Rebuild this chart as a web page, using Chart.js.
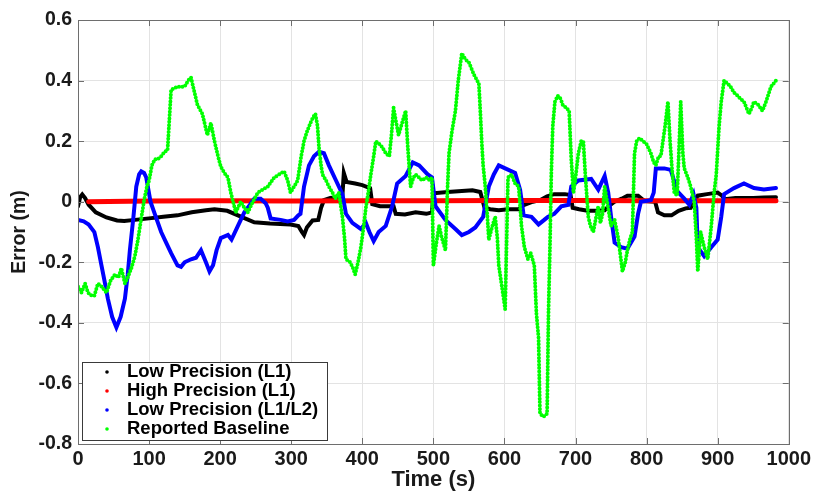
<!DOCTYPE html>
<html>
<head>
<meta charset="utf-8">
<script src="https://cdn.jsdelivr.net/npm/chart.js@4/dist/chart.umd.min.js"></script>
<style>
    body { margin: 0; background: #ffffff; }
    #wrap { width: 814px; height: 493px; position: relative; }
</style>
</head>
<body>
<div id="wrap"><canvas id="errChart"></canvas></div>
<script>
// Series: time (s) and error (m)
const seriesLabels = ["Low Precision (L1)", "High Precision (L1)", "Low Precision (L1/L2)", "Reported Baseline"];
const seriesColors = ["#000000", "#ff0000", "#0000ff", "#00ff00"];

const lowL1Time = [0, 3, 6, 10, 15, 25, 40, 55, 65, 80, 100, 120, 140, 160, 180, 192, 210, 230, 248, 270, 299, 310, 315, 318, 322, 330, 338, 342, 346, 355, 365, 372, 374, 378, 390, 400, 411, 414, 425, 444, 447, 460, 475, 490, 498, 500, 520, 540, 555, 566, 572, 580, 592, 605, 620, 628, 640, 650, 660, 670, 685, 693, 696, 705, 717, 730, 741, 748, 755, 765, 773, 788, 797, 812, 816, 825, 835, 845, 855, 862, 872, 885, 900, 906, 910, 925, 950, 965, 982];
const lowL1Err = [-0.015, 0.015, 0.024, 0.012, -0.01, -0.035, -0.052, -0.062, -0.064, -0.06, -0.055, -0.05, -0.045, -0.035, -0.028, -0.025, -0.03, -0.05, -0.068, -0.072, -0.075, -0.08, -0.1, -0.11, -0.085, -0.062, -0.06, -0.02, 0.005, 0.012, 0.015, 0.02, 0.095, 0.065, 0.06, 0.055, 0.045, -0.008, -0.015, -0.015, -0.04, -0.042, -0.035, -0.04, -0.035, 0.028, 0.032, 0.035, 0.038, 0.032, -0.02, -0.025, -0.028, -0.025, -0.025, -0.01, 0.0, 0.005, 0.018, 0.025, 0.025, 0.022, -0.02, -0.025, -0.03, -0.03, -0.028, -0.012, 0.0, 0.01, 0.02, 0.02, 0.002, 0.0, -0.035, -0.045, -0.045, -0.03, -0.022, -0.02, 0.02, 0.025, 0.03, 0.02, 0.008, 0.012, 0.012, 0.014, 0.015];

const highL1Time = [15, 100, 200, 300, 400, 500, 600, 700, 800, 900, 982];
const highL1Err = [0.0, 0.002, 0.003, 0.002, 0.003, 0.003, 0.004, 0.004, 0.003, 0.003, 0.003];

const lowL1L2Time = [0, 8, 15, 23, 28, 33, 38, 42, 48, 54, 60, 66, 70, 73, 78, 82, 86, 89, 93, 96, 102, 108, 117, 125, 131, 140, 145, 150, 159, 166, 173, 180, 185, 190, 195, 201, 211, 216, 225, 234, 242, 248, 257, 264, 267, 271, 285, 295, 304, 310, 313, 318, 325, 332, 339, 346, 353, 362, 372, 377, 386, 398, 405, 410, 416, 423, 433, 442, 449, 461, 471, 480, 492, 498, 503, 517, 531, 540, 550, 559, 570, 578, 585, 592, 601, 615, 622, 627, 638, 648, 656, 661, 670, 680, 690, 694, 704, 722, 732, 741, 746, 750, 755, 764, 773, 783, 788, 792, 806, 810, 813, 825, 834, 843, 853, 860, 866, 870, 872, 881, 891, 900, 905, 909, 923, 937, 951, 965, 982];
const lowL1L2Err = [-0.06, -0.065, -0.075, -0.1, -0.15, -0.21, -0.27, -0.32, -0.38, -0.415, -0.38, -0.32, -0.24, -0.16, -0.05, 0.05, 0.09, 0.1, 0.095, 0.08, 0.0, -0.04, -0.1, -0.14, -0.17, -0.21, -0.215, -0.2, -0.19, -0.185, -0.16, -0.2, -0.23, -0.21, -0.16, -0.12, -0.11, -0.125, -0.08, -0.035, -0.01, 0.01, 0.01, -0.005, -0.02, -0.055, -0.06, -0.065, -0.06, -0.045, -0.04, 0.05, 0.12, 0.15, 0.165, 0.16, 0.12, 0.075, 0.025, -0.04, -0.07, -0.09, -0.07, -0.1, -0.13, -0.1, -0.08, -0.015, 0.06, 0.085, 0.13, 0.12, 0.09, 0.08, -0.015, -0.06, -0.09, -0.11, -0.1, -0.085, -0.05, 0.05, 0.09, 0.12, 0.11, 0.095, 0.04, -0.045, -0.05, -0.075, -0.06, -0.05, -0.04, -0.015, -0.01, 0.05, 0.07, 0.075, 0.04, 0.085, 0.03, -0.05, -0.135, -0.15, -0.155, -0.115, -0.04, 0.0, 0.005, 0.03, 0.11, 0.11, 0.105, 0.035, 0.01, -0.01, 0.025, -0.02, -0.15, -0.18, -0.15, -0.125, -0.05, 0.025, 0.045, 0.06, 0.045, 0.04, 0.045];

const baselineTime = [0, 5, 10, 14, 19, 23, 28, 33, 40, 46, 52, 57, 61, 66, 70, 75, 80, 84, 88, 93, 97, 100, 104, 108, 112, 117, 122, 126, 128, 131, 140, 150, 155, 159, 164, 168, 175, 182, 187, 192, 197, 201, 206, 211, 215, 222, 229, 234, 239, 246, 253, 260, 267, 276, 283, 290, 295, 299, 304, 309, 314, 318, 322, 327, 331, 334, 337, 339, 342, 344, 349, 353, 358, 362, 367, 372, 375, 377, 383, 387, 390, 394, 398, 402, 405, 409, 412, 416, 419, 424, 428, 433, 438, 441, 444, 447, 451, 456, 461, 464, 468, 472, 475, 480, 484, 490, 495, 498, 500, 504, 508, 512, 517, 520, 522, 526, 531, 535, 540, 545, 550, 557, 564, 566, 568, 570, 573, 576, 578, 583, 587, 590, 592, 597, 601, 605, 610, 615, 620, 624, 628, 633, 637, 642, 645, 648, 650, 655, 660, 662, 664, 666, 668, 671, 675, 679, 682, 687, 691, 694, 697, 699, 704, 708, 711, 714, 718, 721, 725, 729, 732, 735, 738, 741, 750, 755, 760, 766, 770, 773, 777, 780, 783, 786, 790, 795, 800, 806, 810, 813, 817, 820, 823, 826, 830, 833, 836, 839, 843, 846, 848, 851, 853, 858, 862, 867, 870, 872, 876, 881, 886, 891, 895, 898, 902, 905, 909, 914, 918, 923, 928, 932, 937, 944, 948, 951, 957, 963, 968, 975, 982];
const baselineErr = [-0.28, -0.3, -0.27, -0.3, -0.31, -0.31, -0.27, -0.28, -0.3, -0.26, -0.24, -0.25, -0.22, -0.27, -0.25, -0.22, -0.18, -0.13, -0.07, 0.005, 0.05, 0.07, 0.12, 0.14, 0.14, 0.15, 0.165, 0.17, 0.25, 0.37, 0.38, 0.38, 0.4, 0.41, 0.36, 0.32, 0.29, 0.22, 0.26, 0.2, 0.15, 0.115, 0.095, 0.08, 0.03, -0.035, 0.0, -0.02, -0.035, 0.0, 0.03, 0.04, 0.05, 0.08, 0.09, 0.1, 0.07, 0.03, 0.05, 0.07, 0.15, 0.2, 0.23, 0.26, 0.28, 0.29, 0.25, 0.18, 0.12, 0.09, 0.07, 0.05, 0.03, 0.01, 0.03, -0.05, -0.12, -0.19, -0.2, -0.22, -0.24, -0.2, -0.15, -0.08, -0.02, 0.04, 0.09, 0.15, 0.2, 0.19, 0.18, 0.16, 0.15, 0.22, 0.31, 0.27, 0.22, 0.26, 0.3, 0.18, 0.05, 0.08, 0.09, 0.08, 0.07, 0.08, 0.07, 0.08, -0.21, -0.14, -0.08, -0.12, -0.16, 0.05, 0.16, 0.23, 0.3, 0.4, 0.49, 0.47, 0.46, 0.42, 0.39, 0.3, 0.2, 0.12, 0.05, -0.05, -0.125, -0.08, -0.05, -0.12, -0.21, -0.29, -0.355, 0.08, 0.09, 0.06, 0.05, -0.08, -0.15, -0.19, -0.17, -0.21, -0.37, -0.45, -0.7, -0.71, -0.7, -0.36, -0.15, 0.1, 0.25, 0.33, 0.35, 0.34, 0.32, 0.31, 0.3, 0.14, 0.03, 0.06, 0.16, 0.2, 0.2, 0.08, -0.05, -0.08, -0.1, -0.05, -0.015, -0.07, -0.04, 0.05, -0.08, -0.06, -0.12, -0.23, -0.2, -0.16, -0.12, -0.1, 0.16, 0.2, 0.21, 0.2, 0.19, 0.16, 0.13, 0.12, 0.15, 0.15, 0.2, 0.25, 0.33, 0.2, 0.1, 0.03, 0.02, 0.2, 0.33, 0.16, 0.11, 0.08, 0.05, 0.0, -0.12, -0.23, -0.1, -0.15, -0.19, -0.08, 0.03, 0.09, 0.25, 0.33, 0.4, 0.39, 0.38, 0.36, 0.35, 0.34, 0.33, 0.29, 0.31, 0.33, 0.32, 0.3, 0.33, 0.38, 0.4];

const timeList = [lowL1Time, highL1Time, lowL1L2Time, baselineTime];
const errList = [lowL1Err, highL1Err, lowL1L2Err, baselineErr];
const lineWidths = [4, 5, 4, 4];

function toPoints(times, errs) {
    const pts = [];
    for (let i = 0; i < times.length; i++) {
        pts.push({x: times[i], y: errs[i]});
    }
    return pts;
}

const datasets = [];
for (let i = 0; i < seriesLabels.length; i++) {
    datasets.push({
        label: seriesLabels[i],
        data: toPoints(timeList[i], errList[i]),
        borderColor: seriesColors[i],
        backgroundColor: seriesColors[i],
        borderWidth: lineWidths[i],
        borderDash: i === 3 ? [0, 3.4] : [], //<--- the baseline is a run of dots in the original
        borderCapStyle: "round",
        showLine: true,
        pointRadius: 0,
        tension: 0,
        order: 4 - i //<--- green ends up on top, black at the bottom
    });
}

// Box, inner ticks and the legend box in the lower left corner
const frameAndLegend = {
    id: "frameAndLegend",
    afterDatasetsDraw(chart) {
        const ctx = chart.ctx;
        const a = chart.chartArea;
        const xs = chart.scales.x;
        const ys = chart.scales.y;
        ctx.save();
        ctx.strokeStyle = "#6e6e6e";
        ctx.lineWidth = 1;
        ctx.strokeRect(Math.round(a.left) + 0.5, Math.round(a.top) + 0.5, Math.round(a.right - a.left), Math.round(a.bottom - a.top));
        ctx.beginPath();
        xs.ticks.forEach(t => {
            const px = Math.round(xs.getPixelForValue(t.value)) + 0.5;
            ctx.moveTo(px, a.bottom); ctx.lineTo(px, a.bottom - 6);
            ctx.moveTo(px, a.top); ctx.lineTo(px, a.top + 6);
        });
        ys.ticks.forEach(t => {
            const py = Math.round(ys.getPixelForValue(t.value)) + 0.5;
            ctx.moveTo(a.left, py); ctx.lineTo(a.left + 6, py);
            ctx.moveTo(a.right, py); ctx.lineTo(a.right - 6, py);
        });
        ctx.stroke();

        // legend
        const bx = a.left + 4.5, by = 362.5, bw = 245, bh = 78;
        ctx.fillStyle = "#ffffff";
        ctx.fillRect(bx, by, bw, bh);
        ctx.strokeStyle = "#3a3a3a";
        ctx.strokeRect(bx, by, bw, bh);
        ctx.font = "bold 18.5px 'Liberation Sans', Arial, sans-serif";
        ctx.textBaseline = "middle";
        ctx.textAlign = "left";
        for (let i = 0; i < seriesLabels.length; i++) {
            const cy = 372 + i * 19;
            ctx.fillStyle = seriesColors[i];
            ctx.beginPath();
            ctx.arc(107, cy, 1.8, 0, Math.PI * 2);
            ctx.fill();
            ctx.fillStyle = "#000000";
            ctx.fillText(seriesLabels[i], 127, cy);
        }
        ctx.restore();
    }
};

new Chart("errChart", {
    type: "scatter",
    data: { datasets: datasets },
    options: {
        responsive: true,
        maintainAspectRatio: false,
        animation: false,
        layout: { padding: { top: 20, right: 24, left: 0, bottom: 0 } },
        plugins: { legend: { display: false }, tooltip: { enabled: false } },
        scales: {
            x: {
                type: "linear",
                min: 0,
                max: 1000,
                afterFit: s => { s.height = 49; },
                ticks: {
                    stepSize: 100,
                    padding: 3,
                    color: "#1a1a1a",
                    font: { family: "'Liberation Sans', Arial, sans-serif", size: 20, weight: "bold" },
                    maxRotation: 0,
                    callback: v => String(v)
                },
                grid: { color: "#e3e3e3", drawTicks: false },
                border: { display: false },
                title: {
                    display: true,
                    text: "Time (s)",
                    color: "#1a1a1a",
                    font: { family: "'Liberation Sans', Arial, sans-serif", size: 22, weight: "bold" },
                    padding: { top: 0, bottom: 0 }
                }
            },
            y: {
                min: -0.8,
                max: 0.6,
                afterFit: s => { s.width = 78; },
                ticks: {
                    stepSize: 0.2,
                    padding: 6,
                    color: "#1a1a1a",
                    font: { family: "'Liberation Sans', Arial, sans-serif", size: 19.5, weight: "bold" },
                    callback: v => String(Number(v.toFixed(1)))
                },
                grid: { color: "#e3e3e3", drawTicks: false },
                border: { display: false },
                title: {
                    display: true,
                    text: "Error (m)",
                    color: "#1a1a1a",
                    font: { family: "'Liberation Sans', Arial, sans-serif", size: 19.5, weight: "bold" },
                    padding: { top: 8, bottom: 0 }
                }
            }
        }
    },
    plugins: [frameAndLegend]
});
</script>
</body>
</html>
